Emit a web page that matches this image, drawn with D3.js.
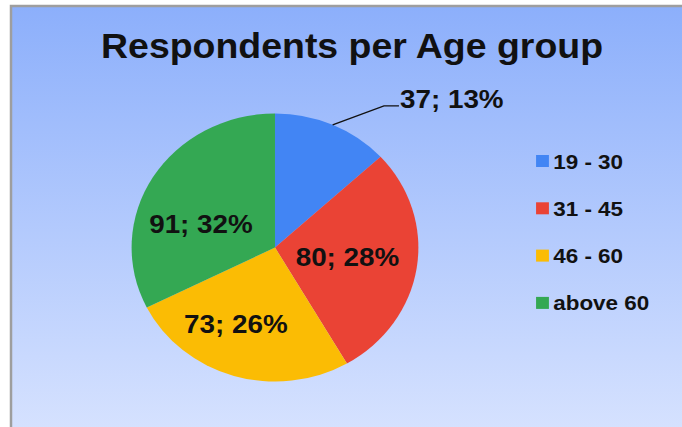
<!DOCTYPE html>
<html>
<head>
<meta charset="utf-8">
<script src="https://cdn.jsdelivr.net/npm/d3@7"></script>
<style>
  html, body { margin: 0; padding: 0; background: #fff; }
  svg { display: block; font-family: "Liberation Sans", Arial, sans-serif; }
</style>
</head>
<body>
<svg class="chart"></svg>
<script>
// data
var groups = ["19 - 30", "31 - 45", "46 - 60", "above 60"];
var counts = [37, 80, 73, 91];
var colors = ["#4285F4", "#EA4335", "#FBBC04", "#34A853"];
var title = "Respondents per Age group";

function show() {
    'use strict';
    var width = 682, height = 427;
    var stretch = 1.07; // the original is drawn slightly wider than tall

    // where the inside labels sit: angle shift (deg) and radius fraction
    var labelShift = [0, -1, 9, -13];
    var labelRadius = [0.56, 0.51, 0.63, 0.545];

    var svg = d3.select(".chart")
        .attr("width", width)
        .attr("height", height);

    var grad = svg.append("defs").append("linearGradient")
        .attr("id", "bg")
        .attr("x1", 0).attr("y1", 0).attr("x2", 0).attr("y2", 1);
    grad.append("stop").attr("offset", "0%").attr("stop-color", "#8CAFFB");
    grad.append("stop").attr("offset", "100%").attr("stop-color", "#DCE6FF");

    svg.append("rect")
        .attr("x", 11).attr("y", 6)
        .attr("width", 720).attr("height", 460)
        .attr("fill", "url(#bg)")
        .attr("stroke", "#9E9E9E")
        .attr("stroke-width", 2.5);

    var g = svg.append("g").attr("transform", "scale(" + stretch + ",1)");

    g.append("text")
        .attr("x", 329).attr("y", 58)
        .attr("text-anchor", "middle")
        .style("font-size", "35px")
        .style("font-weight", "bold")
        .attr("fill", "#111")
        .text(title);

    var cx = 257, cy = 247.5, r = 134;
    var total = d3.sum(counts);

    var pie = d3.pie().sort(null).value(function(d) { return d; });
    var arcs = pie(counts);

    var arc = d3.arc().innerRadius(0).outerRadius(r);

    var pg = g.append("g").attr("transform", "translate(" + cx + "," + cy + ")");

    pg.selectAll("path.slice").data(arcs).enter().append("path")
        .attr("class", "slice")
        .attr("d", arc)
        .attr("fill", function(d, i) { return colors[i]; });

    function labelText(d) {
        return d.data + "; " + Math.round(d.data / total * 100) + "%";
    }

    // small slices get their label outside with a leader line
    var inside = arcs.filter(function(d) { return d.endAngle - d.startAngle > 1; });
    var outside = arcs.filter(function(d) { return d.endAngle - d.startAngle <= 1; });

    pg.selectAll("text.inner").data(inside).enter().append("text")
        .attr("class", "inner")
        .attr("transform", function(d) {
            var i = d.index;
            var a = (d.startAngle + d.endAngle) / 2 + labelShift[i] * Math.PI / 180;
            var rr = r * labelRadius[i];
            return "translate(" + (Math.sin(a) * rr) + "," + (-Math.cos(a) * rr) + ")";
        })
        .attr("text-anchor", "middle")
        .attr("dy", "0.36em")
        .style("font-size", "26px")
        .style("font-weight", "bold")
        .attr("fill", "#111")
        .text(labelText);

    outside.forEach(function(d) {
        var a = (d.startAngle + d.endAngle) / 2;
        var p0 = [Math.sin(a) * r, -Math.cos(a) * r];
        var p1 = [p0[0] + 48, p0[1] - 19];
        var p2 = [p1[0] + 14, p1[1]];
        pg.append("polyline")
            .attr("points", [p0, p1, p2].map(function(p) { return p.join(","); }).join(" "))
            .attr("fill", "none")
            .attr("stroke", "#111")
            .attr("stroke-width", 1.3);
        pg.append("text")
            .attr("x", p2[0] + 1).attr("y", p2[1] + 2)
            .style("font-size", "26px")
            .style("font-weight", "bold")
            .attr("fill", "#111")
            .text(labelText(d));
    });

    var legend = g.append("g").attr("transform", "translate(501,161)");
    var item = legend.selectAll("g").data(groups).enter().append("g")
        .attr("transform", function(d, i) { return "translate(0," + (i * 47.3) + ")"; });
    item.append("rect")
        .attr("x", 0).attr("y", -6)
        .attr("width", 12).attr("height", 12)
        .attr("fill", function(d, i) { return colors[i]; });
    item.append("text")
        .attr("x", 16).attr("dy", "0.36em")
        .style("font-size", "21px")
        .style("font-weight", "bold")
        .attr("fill", "#111")
        .text(function(d) { return d; });
}
show();
</script>
</body>
</html>
